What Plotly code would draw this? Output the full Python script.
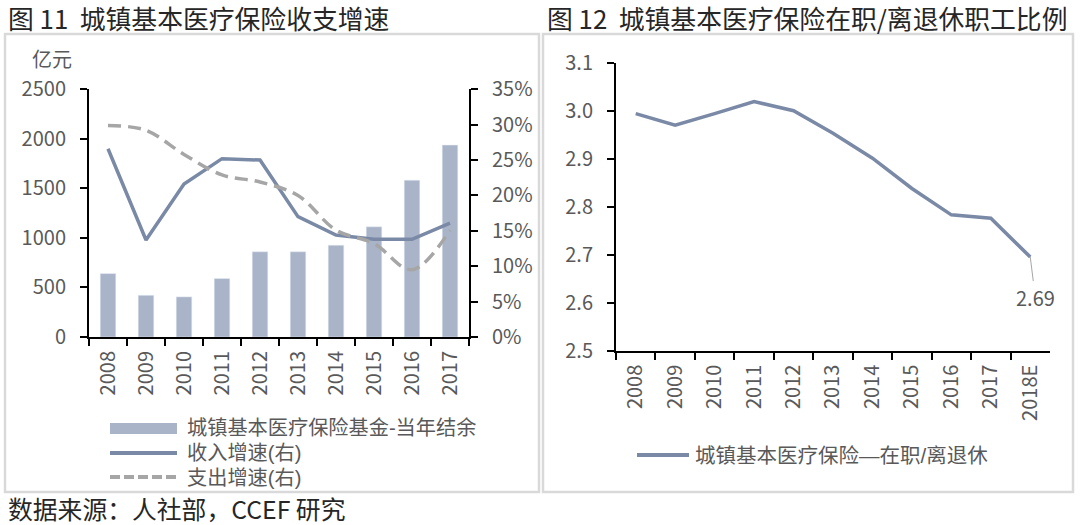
import plotly.graph_objects as go

W, H = 1080, 525

# ---------------- data ----------------
years_left = ["2008", "2009", "2010", "2011", "2012", "2013", "2014", "2015", "2016", "2017"]
fund_balance = [640, 421, 405, 590, 860, 860, 927, 1112, 1583, 1937]          # 亿元
income_growth = [0.266, 0.137, 0.216, 0.252, 0.250, 0.170, 0.144, 0.138, 0.138, 0.161]
expense_growth = [0.299, 0.292, 0.258, 0.229, 0.219, 0.200, 0.151, 0.132, 0.095, 0.151]

years_right = ["2008", "2009", "2010", "2011", "2012", "2013", "2014", "2015", "2016", "2017", "2018E"]
worker_retiree_ratio = [2.994, 2.970, 2.994, 3.019, 3.000, 2.953, 2.901, 2.838, 2.783, 2.776, 2.695]
last_label = "2.69"

names = ["城镇基本医疗保险基金-当年结余", "收入增速(右)", "支出增速(右)", "城镇基本医疗保险—在职/离退休"]

BAR_C = "#aab4c8"
LINE_C = "#7a8aa6"
DASH_C = "#a6a6a6"
TICK_C = "#595959"
TXT_C = "#262626"
FONT = "Noto Sans CJK SC"
LEG_FONT = "Liberation Sans, Noto Sans CJK SC"


def px(x):
    return x / W


def py(y):
    return 1 - y / H


fig = go.Figure()
fig.add_trace(go.Bar(x=years_left, y=fund_balance, name=names[0], marker_color=BAR_C,
                     xaxis="x", yaxis="y"))
fig.add_trace(go.Scatter(x=years_left, y=income_growth, name=names[1], mode="lines",
                         line=dict(color=LINE_C, width=3.5), xaxis="x", yaxis="y2"))
fig.add_trace(go.Scatter(x=years_left, y=expense_growth, name=names[2], mode="lines",
                         line=dict(color=DASH_C, width=3.5, dash="13px,7px", shape="spline"),
                         xaxis="x", yaxis="y2"))
fig.add_trace(go.Scatter(x=years_right, y=worker_retiree_ratio, name=names[3], mode="lines",
                         line=dict(color=LINE_C, width=3.5), xaxis="x3", yaxis="y3"))

tickfont = dict(family=FONT, size=20, color=TICK_C)
axis_common = dict(showline=True, linecolor="black", linewidth=2, ticks="outside",
                   ticklen=7, tickwidth=2, tickcolor="black", showgrid=False,
                   zeroline=False, tickfont=tickfont, automargin=False)

fig.update_layout(
    width=W, height=H, autosize=False, margin=dict(l=0, r=0, t=0, b=0, pad=0),
    paper_bgcolor="white", plot_bgcolor="rgba(0,0,0,0)",
    showlegend=False, bargap=0.59,
    font=dict(family=FONT, color=TXT_C),
    xaxis=dict(domain=[px(89), px(469)], anchor="y", type="category", range=[-0.5, 9.5],
               tickson="boundaries", tickangle=-90, ticklabelstandoff=4, **axis_common),
    yaxis=dict(domain=[py(337), py(89.3)], anchor="x", range=[0, 2500], dtick=500,
               ticklabelstandoff=10, **axis_common),
    yaxis2=dict(overlaying="y", anchor="x", side="right", range=[0, 0.35], dtick=0.05,
                tickformat=".0%", ticklabelstandoff=10, **axis_common),
    xaxis3=dict(domain=[px(616), px(1050)], anchor="y3", type="category", range=[-0.5, 10.5],
                tickson="boundaries", tickangle=-90, ticklabelstandoff=4, **axis_common),
    yaxis3=dict(domain=[py(350.7), py(62.7)], anchor="x3", range=[2.5, 3.1], dtick=0.1,
                tickformat=".1f", ticklabelstandoff=10, **axis_common),
)

shapes = [
    # panel frames
    dict(type="rect", xref="paper", yref="paper", x0=px(5), x1=px(539), y0=py(492), y1=py(34),
         line=dict(color="#d9d9d9", width=2.5)),
    dict(type="rect", xref="paper", yref="paper", x0=px(543), x1=px(1073), y0=py(492), y1=py(34),
         line=dict(color="#d9d9d9", width=2.5)),
    # legend samples (left)
    dict(type="rect", xref="paper", yref="paper", x0=px(110), x1=px(177), y0=py(434), y1=py(423),
         fillcolor=BAR_C, line=dict(width=0)),
    dict(type="line", xref="paper", yref="paper", x0=px(110), x1=px(177), y0=py(453), y1=py(453),
         line=dict(color=LINE_C, width=4)),
    dict(type="line", xref="paper", yref="paper", x0=px(110), x1=px(177), y0=py(477), y1=py(477),
         line=dict(color=DASH_C, width=4, dash="10px,4px")),
    # legend sample (right)
    dict(type="line", xref="paper", yref="paper", x0=px(637), x1=px(689), y0=py(455), y1=py(455),
         line=dict(color=LINE_C, width=4)),
]
fig.update_layout(shapes=shapes)

ann = []


def txt(x, y, s, size, color=TXT_C, xanchor="left", family=FONT):
    ann.append(dict(xref="paper", yref="paper", x=px(x), y=py(y), text=s, showarrow=False,
                    xanchor=xanchor, yanchor="middle", align="left",
                    font=dict(family=family, size=size, color=color)))


txt(6, 18, "图 11\u00a0\u00a0城镇基本医疗保险收支增速", 25.8)
txt(545, 18, "图 12\u00a0\u00a0城镇基本医疗保险在职/离退休职工比例", 25.8)
txt(6, 508, "数据来源：人社部，CCEF 研究", 24.8)
txt(52, 58, "亿元", 20, TICK_C, xanchor="center")
txt(185, 428, names[0], 20.2, TICK_C, family=LEG_FONT)
txt(185, 453, names[1], 20.2, TICK_C, family=LEG_FONT)
txt(185, 478, names[2], 20.2, TICK_C, family=LEG_FONT)
txt(693, 455, names[3], 20.5, TICK_C, family=LEG_FONT)

ann.append(dict(xref="x3", yref="y3", x=years_right[-1], y=worker_retiree_ratio[-1], text=last_label,
                showarrow=True, arrowhead=0, arrowwidth=1, arrowcolor=DASH_C, ax=5, ay=40,
                standoff=0, font=dict(family=FONT, size=20, color=TICK_C)))
fig.update_layout(annotations=ann)

fig.write_html("out.html", config={"displayModeBar": False},
               post_script="document.body.style.margin='0';")
